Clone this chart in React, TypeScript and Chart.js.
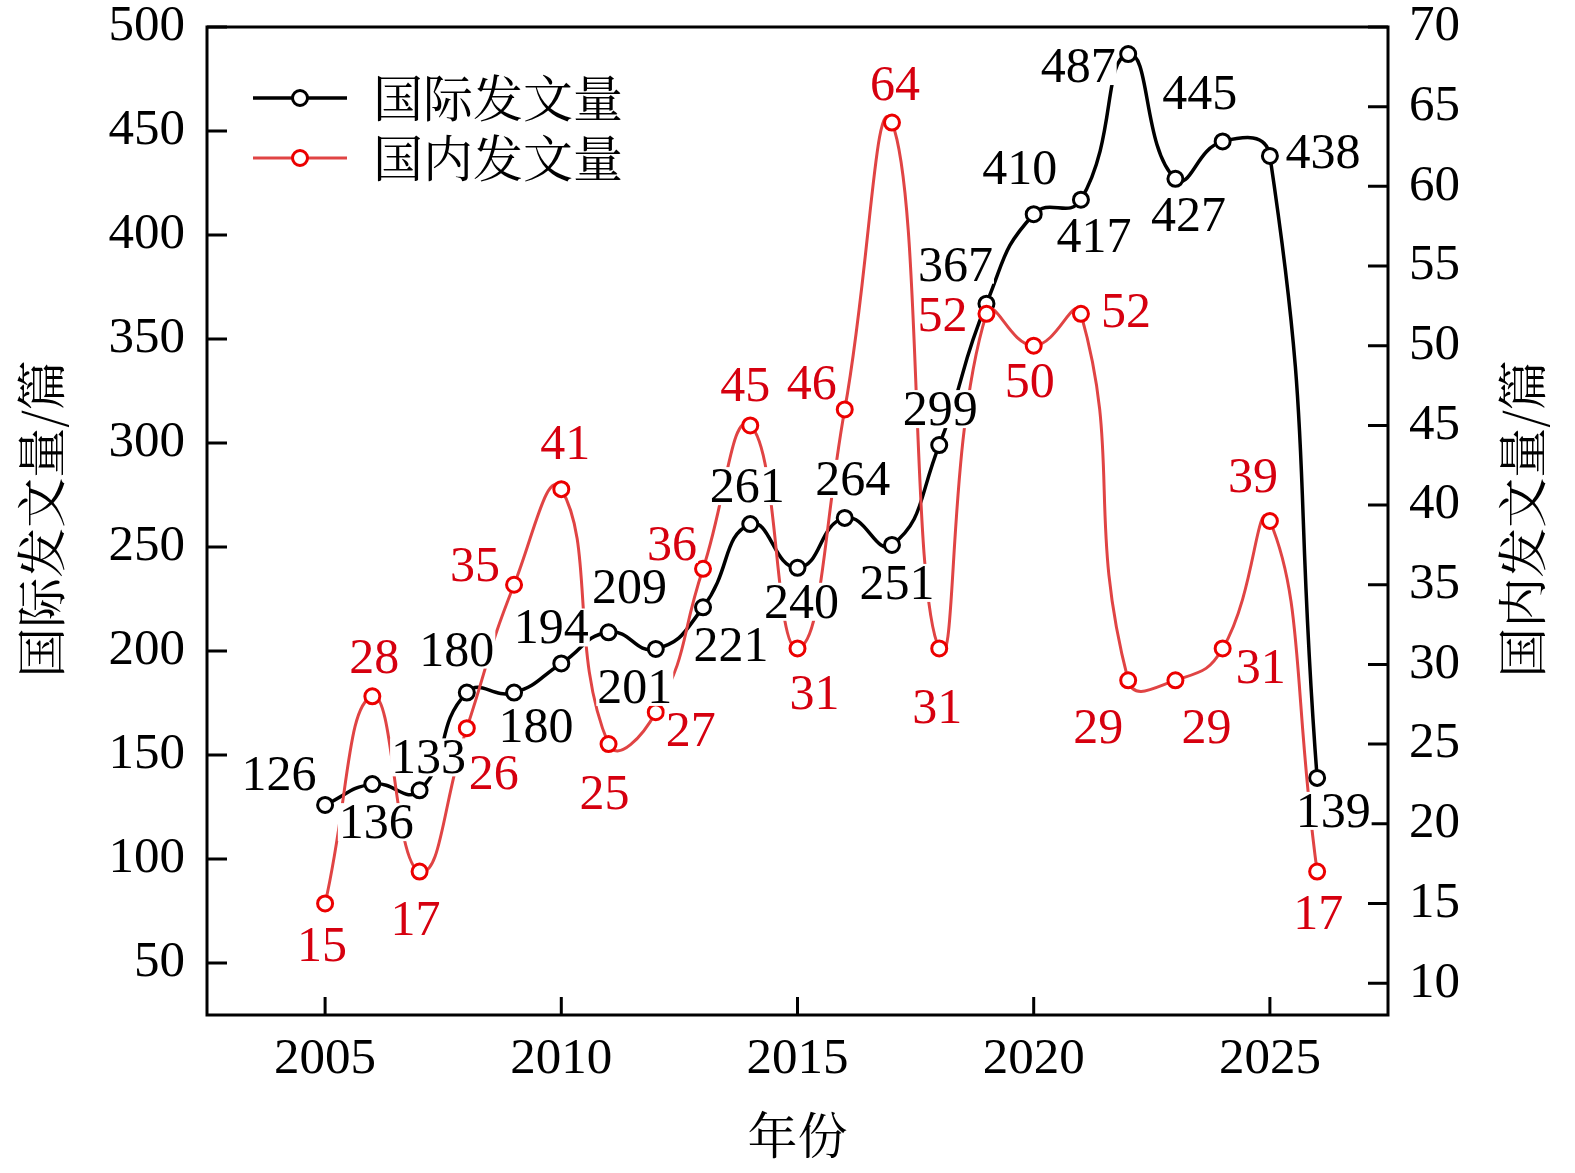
import React, { useEffect, useRef } from 'react';
import { Chart, registerables } from 'chart.js';

Chart.register(...registerables);

const YEARS = [2005, 2006, 2007, 2008, 2009, 2010, 2011, 2012, 2013, 2014, 2015, 2016, 2017, 2018, 2019, 2020, 2021, 2022, 2023, 2024, 2025, 2026];
const INTL = [126, 136, 133, 180, 180, 194, 209, 201, 221, 261, 240, 264, 251, 299, 367, 410, 417, 487, 427, 445, 438, 139];
const DOMESTIC = [15, 28, 17, 26, 35, 41, 25, 27, 36, 45, 31, 46, 64, 31, 52, 50, 52, 29, 29, 31, 39, 17];
const X_TICKS = [2005, 2010, 2015, 2020, 2025];
const LEFT_TICKS = [50, 100, 150, 200, 250, 300, 350, 400, 450, 500];
const RIGHT_TICKS = [10, 15, 20, 25, 30, 35, 40, 45, 50, 55, 60, 65, 70];
const INTL_NAME = '国际发文量';
const DOM_NAME = '国内发文量';
const X_TITLE = '年份';
const LEFT_TITLE = '国际发文量/篇';
const RIGHT_TITLE = '国内发文量/篇';

// label placement (pixel offsets from each point), kept apart from the data
const INTL_LABEL_OFFSETS = [[-46, -31], [4, 38], [9, -33], [-10, -43], [22, 33], [-10, -36], [21, -45], [-21, 38], [28, 37], [-3, -38], [4, 34], [8, -39], [5, 38], [1, -36], [-31, -39], [-14, -46], [13, 36], [-50, 12], [13, 36], [-23, -48], [53, -4], [16, 33]];
const DOM_LABEL_OFFSETS = [[-3, 42], [2, -39], [-4, 47], [27, 45], [-39, -20], [4, -47], [-4, 49], [35, 17], [-31, -25], [-5, -40], [17, 45], [-33, -26], [3, -39], [-2, 59], [-44, 1], [-4, 35], [45, -3], [-30, 47], [31, 47], [38, 19], [-17, -45], [1, 41]];

const SERIF = '"Liberation Serif", "Times New Roman", serif';
const CJK = '"Noto Serif CJK SC", "Noto Sans CJK SC", sans-serif';
const BLACK = '#000000';
const RED_LINE = '#e04444';
const RED_MARK = '#ec0000';
const RED_TEXT = '#d6000f';

function drawLabel(ctx: CanvasRenderingContext2D, text: string, cx: number, cy: number, color: string) {
  ctx.font = `50px ${SERIF}`;
  ctx.textAlign = 'center';
  ctx.textBaseline = 'alphabetic';
  const m = ctx.measureText(text);
  const asc = m.actualBoundingBoxAscent;
  const desc = m.actualBoundingBoxDescent;
  const w = m.width;
  const by = cy + (asc - desc) / 2;
  ctx.fillStyle = '#ffffff';
  ctx.fillRect(cx - w / 2 - 1, by - asc - 2, w + 2, asc + desc + 4);
  ctx.fillStyle = color;
  ctx.fillText(text, cx, by);
}

const customPlugin = {
  id: 'customDecor',
  beforeDatasetsDraw(chart: any) {
    const { ctx, chartArea } = chart;
    const { left, right, top, bottom } = chartArea;
    ctx.save();
    ctx.strokeStyle = '#000';
    ctx.lineWidth = 3;
    ctx.beginPath();
    ctx.rect(left, top, right - left, bottom - top);
    ctx.stroke();
    const x = chart.scales.x;
    const yl = chart.scales.yL;
    const yr = chart.scales.yR;
    ctx.beginPath();
    X_TICKS.forEach((t) => {
      const px = x.getPixelForValue(t);
      ctx.moveTo(px, bottom);
      ctx.lineTo(px, bottom - 18);
    });
    LEFT_TICKS.forEach((t) => {
      const py = yl.getPixelForValue(t);
      ctx.moveTo(left, py);
      ctx.lineTo(left + 20, py);
    });
    RIGHT_TICKS.forEach((t) => {
      const py = yr.getPixelForValue(t);
      ctx.moveTo(right, py);
      ctx.lineTo(right - 20, py);
    });
    ctx.stroke();
    ctx.restore();
  },
  afterDatasetsDraw(chart: any) {
    const { ctx } = chart;
    const x = chart.scales.x;
    const yl = chart.scales.yL;
    const yr = chart.scales.yR;
    ctx.save();
    YEARS.forEach((yr0, i) => {
      const px = x.getPixelForValue(yr0);
      const py = yl.getPixelForValue(INTL[i]);
      const [dx, dy] = INTL_LABEL_OFFSETS[i];
      drawLabel(ctx, String(INTL[i]), px + dx, py + dy, BLACK);
    });
    YEARS.forEach((yr0, i) => {
      const px = x.getPixelForValue(yr0);
      const py = yr.getPixelForValue(DOMESTIC[i]);
      const [dx, dy] = DOM_LABEL_OFFSETS[i];
      drawLabel(ctx, String(DOMESTIC[i]), px + dx, py + dy, RED_TEXT);
    });
    ctx.restore();
  },
  afterDraw(chart: any) {
    const { ctx, chartArea } = chart;
    ctx.save();
    const entries = [
      { name: INTL_NAME, line: BLACK, mark: BLACK, lw: 3.5, y: 98 },
      { name: DOM_NAME, line: RED_LINE, mark: RED_MARK, lw: 3, y: 158 },
    ];
    entries.forEach((e) => {
      ctx.strokeStyle = e.line;
      ctx.lineWidth = e.lw;
      ctx.beginPath();
      ctx.moveTo(253, e.y);
      ctx.lineTo(347, e.y);
      ctx.stroke();
      ctx.beginPath();
      ctx.arc(300, e.y, 7.5, 0, Math.PI * 2);
      ctx.fillStyle = '#fff';
      ctx.fill();
      ctx.strokeStyle = e.mark;
      ctx.lineWidth = 3;
      ctx.stroke();
      ctx.fillStyle = '#000';
      ctx.font = `50px ${CJK}`;
      ctx.textAlign = 'left';
      ctx.textBaseline = 'middle';
      ctx.fillText(e.name, 373, e.y);
    });
    ctx.fillStyle = '#000';
    ctx.font = `50px ${CJK}`;
    ctx.textAlign = 'center';
    ctx.textBaseline = 'middle';
    ctx.fillText(X_TITLE, (chartArea.left + chartArea.right) / 2, 1135);
    ctx.save();
    ctx.translate(41, 519);
    ctx.rotate(-Math.PI / 2);
    ctx.fillText(LEFT_TITLE, 0, 0);
    ctx.restore();
    ctx.save();
    ctx.translate(1522, 519);
    ctx.rotate(-Math.PI / 2);
    ctx.fillText(RIGHT_TITLE, 0, 0);
    ctx.restore();
    ctx.restore();
  },
};

export default function App() {
  const ref = useRef<HTMLCanvasElement>(null);
  useEffect(() => {
    if (!ref.current) return;
    const tickFont = { family: SERIF, size: 51, lineHeight: 1 };
    const fmt = (v: any) => String(v);
    const chart = new Chart(ref.current, {
      type: 'line',
      data: {
        datasets: [
          {
            label: DOM_NAME,
            data: YEARS.map((y, i) => ({ x: y, y: DOMESTIC[i] })),
            yAxisID: 'yR',
            borderColor: RED_LINE,
            borderWidth: 3,
            pointRadius: 7.5,
            pointBorderWidth: 3,
            pointBorderColor: RED_MARK,
            pointBackgroundColor: '#ffffff',
            tension: 0.5,
            order: 0,
          },
          {
            label: INTL_NAME,
            data: YEARS.map((y, i) => ({ x: y, y: INTL[i] })),
            yAxisID: 'yL',
            borderColor: BLACK,
            borderWidth: 3.5,
            pointRadius: 7.5,
            pointBorderWidth: 3,
            pointBorderColor: BLACK,
            pointBackgroundColor: '#ffffff',
            tension: 0.5,
            order: 1,
          },
        ],
      },
      options: {
        responsive: false,
        animation: false,
        devicePixelRatio: 1,
        layout: { padding: { top: 27, left: 0, right: 0, bottom: 0 } },
        plugins: { legend: { display: false }, tooltip: { enabled: false }, title: { display: false } },
        scales: {
          x: {
            type: 'linear',
            min: 2002.5,
            max: 2027.5,
            grid: { display: false, drawTicks: false },
            border: { display: false },
            ticks: { font: tickFont, color: '#000', padding: 19, maxRotation: 0, callback: fmt },
            afterBuildTicks: (s: any) => { s.ticks = X_TICKS.map((v) => ({ value: v })); },
            afterFit: (s: any) => { s.height = 158; s.paddingLeft = 0; s.paddingRight = 0; },
          },
          yL: {
            type: 'linear',
            position: 'left',
            min: 25,
            max: 500,
            grid: { display: false, drawTicks: false },
            border: { display: false },
            ticks: { font: tickFont, color: '#000', padding: 22, callback: fmt },
            afterBuildTicks: (s: any) => { s.ticks = LEFT_TICKS.map((v) => ({ value: v })); },
            afterFit: (s: any) => { s.width = 207; s.paddingTop = 0; s.paddingBottom = 0; },
          },
          yR: {
            type: 'linear',
            position: 'right',
            min: 8,
            max: 70,
            grid: { display: false, drawTicks: false },
            border: { display: false },
            ticks: { font: tickFont, color: '#000', padding: 21, callback: fmt },
            afterBuildTicks: (s: any) => { s.ticks = RIGHT_TICKS.map((v) => ({ value: v })); },
            afterFit: (s: any) => { s.width = 187; s.paddingTop = 0; s.paddingBottom = 0; },
          },
        },
      } as any,
      plugins: [customPlugin],
    });
    return () => chart.destroy();
  }, []);
  return (
    <div style={{ position: 'absolute', left: 0, top: 0, width: 1575, height: 1173, background: '#fff' }}>
      <canvas ref={ref} width={1575} height={1173} style={{ display: 'block', width: 1575, height: 1173 }} />
    </div>
  );
}
